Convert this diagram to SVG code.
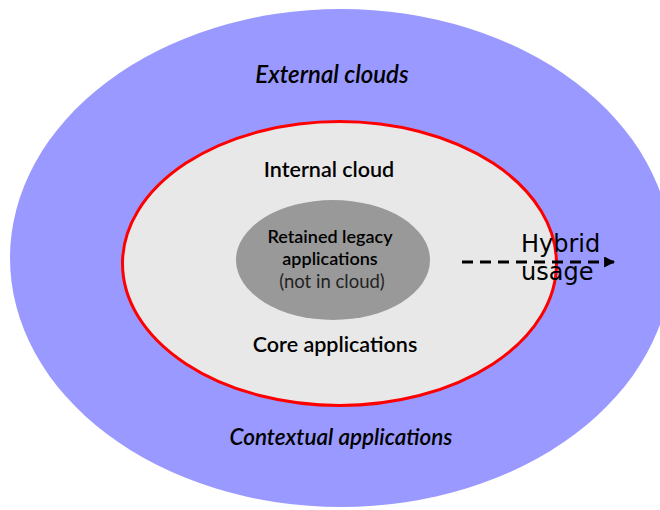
<svg xmlns="http://www.w3.org/2000/svg" width="660" height="510" viewBox="0 0 660 510">
<style>
text{font-family:Lato,"Open Sans","Liberation Sans",sans-serif;fill:#000;text-anchor:middle}
.lbl{font-size:21.5px;font-weight:600}
.ext{font-size:24px}
.ctx{font-size:22.5px}
.it{font-style:italic}
.sm{font-size:18px;font-weight:600}
.smn{font-size:18.5px;fill:#222}
.hy{font-family:"DejaVu Sans","Liberation Sans",sans-serif;font-size:24px;text-anchor:start}
</style>
<defs>
<marker id="ah" viewBox="0 0 10 10" refX="9" refY="5" markerWidth="11" markerHeight="11" orient="auto" markerUnits="userSpaceOnUse">
<path d="M0,0 L10,5 L0,10 z" fill="#000"/>
</marker>
</defs>
<rect width="660" height="510" fill="#fff"/>
<g id="external">
<ellipse cx="341" cy="258" rx="331" ry="249" fill="#9999ff"/>
<text class="lbl it ext" x="332" y="83">External clouds</text>
<text class="lbl it ctx" x="341" y="445">Contextual applications</text>
</g>
<g id="internal">
<ellipse cx="339.5" cy="263.5" rx="217" ry="142" fill="#e8e8e8" stroke="#ff0000" stroke-width="3"/>
<text class="lbl" x="329" y="177">Internal cloud</text>
<text class="lbl" x="335" y="352">Core applications</text>
</g>
<g id="legacy">
<ellipse cx="333" cy="260" rx="97" ry="60" fill="#999999"/>
<text class="sm" x="330" y="243">Retained legacy</text>
<text class="sm" x="330" y="265">applications</text>
<text class="smn" x="332" y="288">(not in cloud)</text>
</g>
<g id="connectors">
<line x1="462" y1="262" x2="614" y2="262" stroke="#000" stroke-width="3" stroke-dasharray="11,7" marker-end="url(#ah)"/>
</g>
<g id="hybrid">
<text class="hy" x="521" y="252">Hybrid</text>
<text class="hy" x="521" y="280">usage</text>
</g>
</svg>
